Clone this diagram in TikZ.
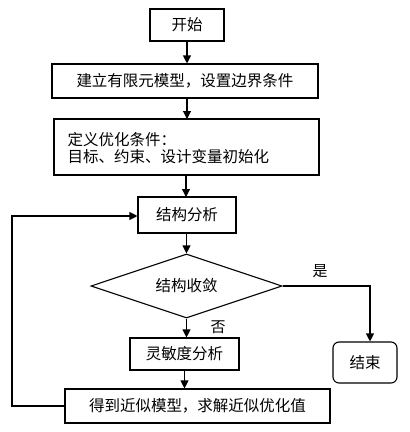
\documentclass[tikz,border=0pt]{standalone}
\usepackage{fontspec}
\setmainfont{Noto Sans CJK SC}
\usetikzlibrary{arrows.meta,shapes.geometric}
\begin{document}
\begin{tikzpicture}[x=1pt,y=-1pt,
  box/.style={draw,line width=1.1pt,inner sep=0pt,font=\fontsize{15.5}{17}\selectfont},
  arr/.style={line width=1.1pt,-{Triangle[length=8pt,width=8pt]}},
  lbl/.style={font=\fontsize{15}{17}\selectfont}]
\useasboundingbox (0,0) rectangle (410,432);
\node[box,minimum width=74pt,minimum height=32pt] (start) at (187,25) {开始};
\node[box,minimum width=266pt,minimum height=34pt] (model) at (185,81) {建立有限元模型，设置边界条件};
\node[box,minimum width=265pt,minimum height=56pt] (def) at (186.5,147) {};
\node[lbl,font=\fontsize{15.5}{17.5}\selectfont,anchor=west,align=left] (deftext) at (64,148) {定义优化条件：\\目标、约束、设计变量初始化};
\node[box,minimum width=98pt,minimum height=36pt] (ana) at (187,215) {结构分析};
\node[box,diamond,aspect=3,minimum width=191pt,minimum height=64pt] (conv) at (186.5,286) {结构收敛};
\node[box,minimum width=109pt,minimum height=32pt] (sens) at (184.5,354) {灵敏度分析};
\node[box,minimum width=265pt,minimum height=34pt] (approx) at (197.5,406) {得到近似模型，求解近似优化值};
\node[box,rounded corners=6pt,minimum width=64pt,minimum height=41pt] (end) at (365,362.5) {结束};
\node[lbl] (yes) at (320,271) {是};
\node[lbl] (no) at (218,327) {否};
\coordinate (c1) at (370,286);
\coordinate (c2) at (12,406);
\coordinate (c3) at (12,216);
\draw[arr] (start.south) -- (start.south |- model.north);
\draw[arr] (187,98) -- (187,119);
\draw[arr] (186,175) -- (186,197);
\draw[arr] (ana.south -| conv.north) -- (conv.north);
\draw[arr] (conv.south) -- (conv.south |- sens.north);
\draw[arr] (sens.south) -- (sens.south |- approx.north);
\draw[arr] (conv.east) -- (c1) -- (c1 |- end.north);
\draw[arr] (approx.west) -- (c2) -- (c3) -- (ana.west |- c3);
\end{tikzpicture}
\end{document}
